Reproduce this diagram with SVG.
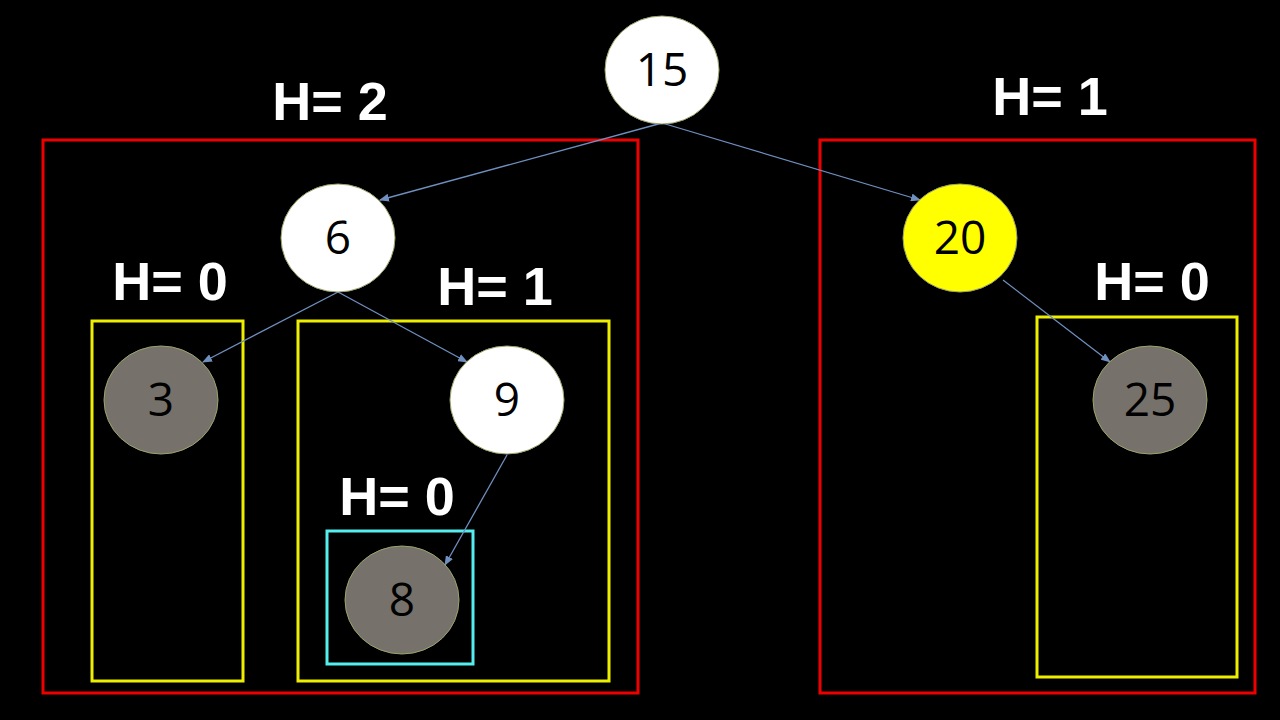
<svg xmlns="http://www.w3.org/2000/svg" width="1280" height="720" viewBox="0 0 1280 720">
<style>
.n{stroke:#9aa36a;stroke-width:1}
.t{font-family:"Open Sans","Liberation Sans",sans-serif;font-size:46px;fill:#000;text-anchor:middle}
.h{font-family:"Liberation Sans",sans-serif;font-weight:bold;font-size:54px;fill:#fff;text-anchor:middle}
.e{stroke:#6f8fbf;stroke-width:1.3;fill:none;marker-end:url(#a)}
.r{fill:none;stroke:#e00;stroke-width:3}
.y{fill:none;stroke:#ee0;stroke-width:3}
</style>
<defs><marker id="a" markerWidth="10" markerHeight="8" refX="9" refY="4" orient="auto" markerUnits="userSpaceOnUse"><path d="M0,0L10,4L0,8z" fill="#6f8fbf"/></marker></defs>
<rect width="1280" height="720" fill="#000"/>
<g id="boxes">
<rect class="r" x="43" y="140" width="595" height="553"/>
<rect class="r" x="820" y="140" width="435" height="553"/>
<rect class="y" x="92" y="321" width="151" height="360"/>
<rect class="y" x="298" y="321" width="311" height="360"/>
<rect class="y" x="1037" y="317" width="200" height="360"/>
<rect x="327" y="531" width="146" height="133" fill="none" stroke="#5ee" stroke-width="3"/>
</g>
<g id="labels">
<text class="h" x="330" y="120">H= 2</text>
<text class="h" x="1050" y="115">H= 1</text>
<text class="h" x="170" y="300">H= 0</text>
<text class="h" x="495" y="305">H= 1</text>
<text class="h" x="397" y="515">H= 0</text>
<text class="h" x="1152" y="300">H= 0</text>
</g>
<g id="connectors">
<line class="e" x1="662" y1="123" x2="380" y2="200"/>
<line class="e" x1="662" y1="123" x2="920" y2="200"/>
<line class="e" x1="338" y1="292" x2="203" y2="362"/>
<line class="e" x1="338" y1="292" x2="467" y2="362"/>
<line class="e" x1="507" y1="455" x2="445" y2="565"/>
<line class="e" x1="1003" y1="280" x2="1110" y2="362"/>
</g>
<g id="n15"><ellipse class="n" cx="662" cy="70" rx="57" ry="54" fill="#fff"/><text class="t" x="662" y="86">15</text></g>
<g id="n6"><ellipse class="n" cx="338" cy="238" rx="57" ry="54" fill="#fff"/><text class="t" x="338" y="254">6</text></g>
<g id="n20"><ellipse class="n" cx="960" cy="238" rx="57" ry="54" fill="#ff0"/><text class="t" x="960" y="254">20</text></g>
<g id="n3"><ellipse class="n" cx="161" cy="400" rx="57" ry="54" fill="#76716b"/><text class="t" x="161" y="416">3</text></g>
<g id="n9"><ellipse class="n" cx="507" cy="400" rx="57" ry="54" fill="#fff"/><text class="t" x="507" y="416">9</text></g>
<g id="n8"><ellipse class="n" cx="402" cy="600" rx="57" ry="54" fill="#76716b"/><text class="t" x="402" y="616">8</text></g>
<g id="n25"><ellipse class="n" cx="1150" cy="400" rx="57" ry="54" fill="#76716b"/><text class="t" x="1150" y="416">25</text></g>
</svg>
